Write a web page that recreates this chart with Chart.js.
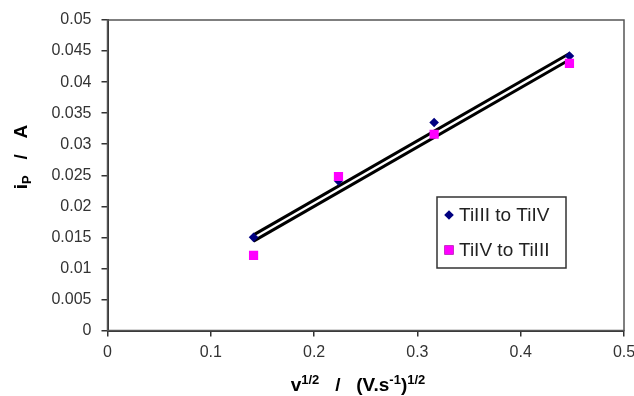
<!DOCTYPE html>
<html>
<head>
<meta charset="utf-8">
<script src="https://cdn.jsdelivr.net/npm/chart.js@4.4.1/dist/chart.umd.min.js"></script>
<style>
  html, body { margin: 0; padding: 0; background: #fff; }
  #wrap { width: 634px; height: 396px; }
</style>
</head>
<body>
<div id="wrap"><canvas id="ipChart" width="634" height="396"></canvas></div>
<script>
// square root of scan rate, (V/s)^1/2
const sqrtScanRate = [0.1414, 0.2236, 0.3162, 0.4472];
// peak currents, A
const tiIIItoTiIV = [0.0150, 0.0241, 0.0335, 0.0442];
const tiIVtoTiIII = [0.0121, 0.0248, 0.0316, 0.0430];
// linear trend line ends for each series
const trendX = [0.1414, 0.4472];
const trendIIItoIV = [0.0154, 0.0446];
const trendIVtoIII = [0.0144, 0.0436];

const yTicks = [0, 0.005, 0.01, 0.015, 0.02, 0.025, 0.03, 0.035, 0.04, 0.045, 0.05];
const xTicks = [0, 0.1, 0.2, 0.3, 0.4, 0.5];

const FONT = "'Liberation Sans', Arial, sans-serif";
const toPoints = (xs, ys) => xs.map((x, i) => ({ x, y: ys[i] }));

// plot frame: top and right edges (left/bottom come from the axes)
const frame = {
    id: 'frame',
    beforeDatasetsDraw(chart) {
        const { ctx, chartArea: a } = chart;
        ctx.save();
        ctx.strokeStyle = '#555';
        ctx.lineWidth = 1.5;
        ctx.strokeRect(a.left, a.top, a.right - a.left, a.bottom - a.top);
        ctx.restore();
    }
};

// draws text runs with super/subscripts, returns total width
function runs(ctx, parts, x, y, measureOnly) {
    let w = 0;
    parts.forEach(p => {
        const size = p.s ? 13 : 19;
        ctx.font = `bold ${size}px ${FONT}`;
        const dy = p.s === 'sup' ? -7 : p.s === 'sub' ? 4 : 0;
        if (!measureOnly) ctx.fillText(p.t, x + w, y + dy);
        w += ctx.measureText(p.t).width;
    });
    return w;
}

const axisTitles = {
    id: 'axisTitles',
    afterDraw(chart) {
        const { ctx } = chart;
        ctx.save();
        ctx.fillStyle = '#000';
        ctx.textBaseline = 'alphabetic';
        ctx.textAlign = 'left';

        const xParts = [
            { t: 'v' }, { t: '1/2', s: 'sup' }, { t: '   /   (V.s' },
            { t: '-1', s: 'sup' }, { t: ')' }, { t: '1/2', s: 'sup' }
        ];
        const xw = runs(ctx, xParts, 0, 0, true);
        runs(ctx, xParts, 358 - xw / 2, 391);

        const yParts = [{ t: 'i' }, { t: 'P', s: 'sub' }, { t: '   /   A' }];
        const yw = runs(ctx, yParts, 0, 0, true);
        ctx.translate(27, 157);
        ctx.rotate(-Math.PI / 2);
        runs(ctx, yParts, -yw / 2, 0);
        ctx.restore();
    }
};

// boxed legend inside the plot area
const boxLegend = {
    id: 'boxLegend',
    afterDraw(chart) {
        const { ctx } = chart;
        const items = chart.data.datasets.filter(d => d.inLegend)
            .sort((a, b) => a.legendRow - b.legendRow);
        const left = 437, top = 197, w = 129, h = 71;
        ctx.save();
        ctx.fillStyle = '#fff';
        ctx.fillRect(left, top, w, h);
        ctx.strokeStyle = '#333';
        ctx.lineWidth = 1.5;
        ctx.strokeRect(left, top, w, h);
        ctx.font = `19px ${FONT}`;
        ctx.textBaseline = 'middle';
        items.forEach((d, i) => {
            const y = top + 18 + i * 35;
            Chart.helpers.drawPoint(ctx, {
                pointStyle: d.pointStyle,
                radius: d.pointRadius,
                borderWidth: 0
            }, left + 12, y);
            ctx.fillStyle = d.backgroundColor;
            ctx.fill();
            ctx.fillStyle = '#222';
            ctx.fillText(d.label, left + 22, y + 1);
        });
        ctx.restore();
    }
};

const lineStyle = {
    type: 'line',
    borderColor: '#000',
    borderWidth: 3,
    pointRadius: 0,
    fill: false,
    order: 2
};

new Chart(document.getElementById('ipChart'), {
    type: 'scatter',
    data: {
        datasets: [
            {
                label: 'TiIII to TiIV',
                data: toPoints(sqrtScanRate, tiIIItoTiIV),
                pointStyle: 'rectRot',
                pointRadius: 4.8,
                backgroundColor: '#000080',
                borderWidth: 0,
                inLegend: true,
                legendRow: 0,
                order: 1
            },
            {
                label: 'TiIV to TiIII',
                data: toPoints(sqrtScanRate, tiIVtoTiIII),
                pointStyle: 'rect',
                pointRadius: 6.5,
                backgroundColor: '#ff00ff',
                borderWidth: 0,
                inLegend: true,
                legendRow: 1,
                order: 0
            },
            Object.assign({ label: 'trend1', data: toPoints(trendX, trendIIItoIV) }, lineStyle),
            Object.assign({ label: 'trend2', data: toPoints(trendX, trendIVtoIII) }, lineStyle)
        ]
    },
    options: {
        responsive: false,
        animation: false,
        layout: { padding: { top: 20, right: 10, left: 0, bottom: 0 } },
        plugins: {
            legend: { display: false },
            tooltip: { enabled: false }
        },
        scales: {
            x: {
                type: 'linear',
                min: 0,
                max: 0.5,
                afterBuildTicks: s => { s.ticks = xTicks.map(v => ({ value: v })); },
                afterFit: s => { s.height = 65.5; s.paddingLeft = 0; s.paddingRight = 0; },
                border: { color: '#333', width: 2 },
                grid: { drawOnChartArea: false, tickLength: 6, color: '#333', lineWidth: 1.5 },
                ticks: {
                    padding: 6,
                    color: '#333',
                    font: { family: FONT, size: 16 },
                    callback: v => String(+v.toFixed(1))
                }
            },
            y: {
                type: 'linear',
                min: 0,
                max: 0.05,
                afterBuildTicks: s => { s.ticks = yTicks.map(v => ({ value: v })); },
                afterFit: s => { s.width = 107.5; s.paddingTop = 0; s.paddingBottom = 0; },
                border: { color: '#333', width: 2 },
                grid: { drawOnChartArea: false, tickLength: 6, color: '#333', lineWidth: 1.5 },
                ticks: {
                    padding: 10,
                    color: '#333',
                    font: { family: FONT, size: 16 },
                    callback: v => String(+v.toFixed(3))
                }
            }
        }
    },
    plugins: [frame, axisTitles, boxLegend]
});
</script>
</body>
</html>
